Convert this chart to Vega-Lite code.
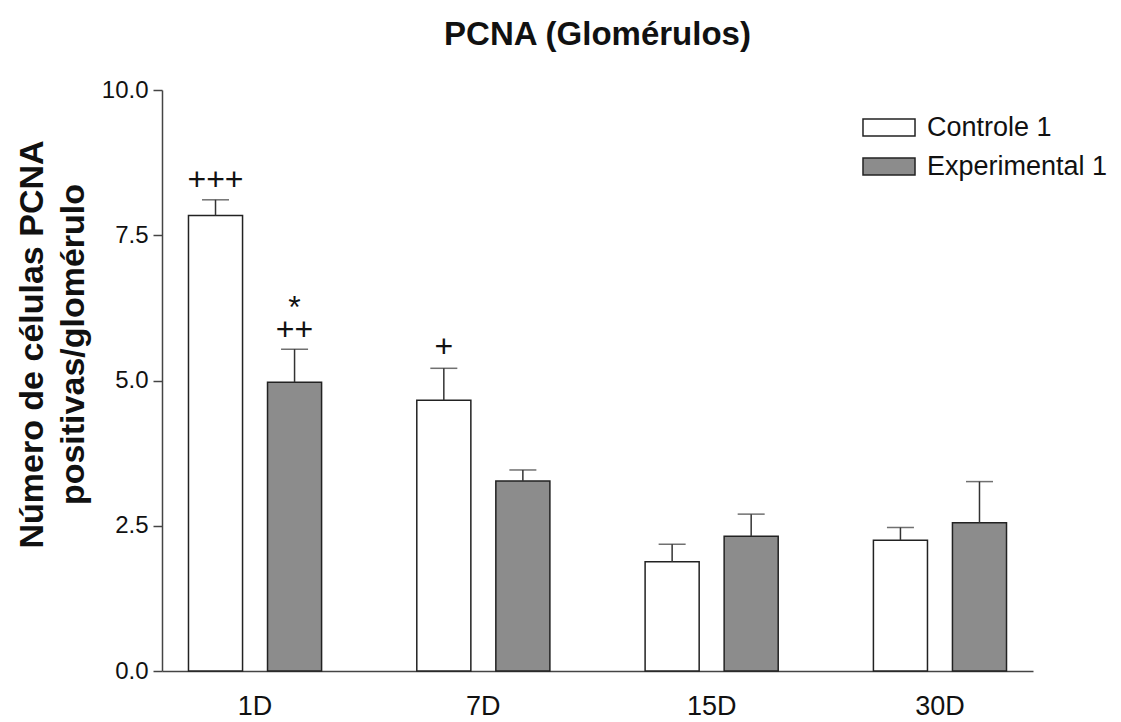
{
  "$schema": "https://vega.github.io/schema/vega-lite/v6.json",
  "width": 871,
  "height": 581,
  "autosize": {"type": "none"},
  "padding": {"left": 162, "top": 90, "right": 88, "bottom": 51},
  "background": "white",
  "config": {"font": "Liberation Sans", "view": {"stroke": null}},
  "title": {
    "text": "PCNA (Glomérulos)",
    "fontSize": 33,
    "fontWeight": "bold",
    "color": "#111111",
    "anchor": "middle",
    "frame": "group",
    "baseline": "alphabetic",
    "offset": 0
  },
  "datasets": {
    "barras": [
      {"dia": "1D", "grupo": "Controle 1", "media": 7.84, "sup": 8.11},
      {"dia": "1D", "grupo": "Experimental 1", "media": 4.97, "sup": 5.54},
      {"dia": "7D", "grupo": "Controle 1", "media": 4.66, "sup": 5.21},
      {"dia": "7D", "grupo": "Experimental 1", "media": 3.27, "sup": 3.46},
      {"dia": "15D", "grupo": "Controle 1", "media": 1.88, "sup": 2.18},
      {"dia": "15D", "grupo": "Experimental 1", "media": 2.32, "sup": 2.7},
      {"dia": "30D", "grupo": "Controle 1", "media": 2.25, "sup": 2.47},
      {"dia": "30D", "grupo": "Experimental 1", "media": 2.55, "sup": 3.26}
    ],
    "marcas": [
      {"dia": "1D", "grupo": "Controle 1", "rotulo": "+++", "pos": 8.45},
      {"dia": "1D", "grupo": "Experimental 1", "rotulo": "++", "pos": 5.87},
      {"dia": "1D", "grupo": "Experimental 1", "rotulo": "*", "pos": 6.24},
      {"dia": "7D", "grupo": "Controle 1", "rotulo": "+", "pos": 5.58}
    ]
  },
  "encoding": {
    "x": {
      "field": "dia",
      "type": "nominal",
      "sort": ["1D", "7D", "15D", "30D"],
      "scale": {"paddingInner": 0.417, "paddingOuter": 0.116},
      "axis": {
        "title": null,
        "labelAngle": 0,
        "labelFontSize": 27,
        "labelColor": "#111111",
        "ticks": false,
        "tickSize": 0,
        "labelPadding": 22,
        "domainColor": "#444444",
        "domainWidth": 1.5
      }
    },
    "xOffset": {
      "field": "grupo",
      "type": "nominal",
      "sort": ["Controle 1", "Experimental 1"],
      "scale": {"paddingInner": 0.316, "paddingOuter": 0}
    }
  },
  "layer": [
    {
      "data": {"name": "barras"},
      "mark": {"type": "bar", "stroke": "#222222", "strokeWidth": 1.5},
      "encoding": {
        "y": {
          "field": "media",
          "type": "quantitative",
          "scale": {"domain": [0, 10], "nice": false},
          "axis": {
            "values": [0, 2.5, 5, 7.5, 10],
            "format": ".1f",
            "grid": false,
            "labelFontSize": 24,
            "labelColor": "#111111",
            "labelPadding": 5,
            "tickSize": 9,
            "tickColor": "#444444",
            "tickWidth": 1.5,
            "domainColor": "#444444",
            "domainWidth": 1.5,
            "title": ["Número de células PCNA", "positivas/glomérulo"],
            "titleFontSize": 34,
            "titleFontWeight": "bold",
            "titleColor": "#111111",
            "titleAngle": -90,
            "titleAlign": "center",
            "titleBaseline": "alphabetic",
            "titleLineHeight": 41,
            "titleX": -120,
            "titleY": 254
          }
        },
        "color": {
          "field": "grupo",
          "type": "nominal",
          "sort": ["Controle 1", "Experimental 1"],
          "scale": {"range": ["#ffffff", "#8c8c8c"]},
          "legend": {
            "title": null,
            "orient": "none",
            "legendX": 709,
            "legendY": 19.5,
            "padding": 0,
            "symbolType": "M-1.53,-0.5H1.53V0.5H-1.53Z",
            "symbolSize": 1156,
            "symbolStrokeColor": "#222222",
            "symbolStrokeWidth": 1.5,
            "symbolOpacity": 1,
            "labelFontSize": 27,
            "labelColor": "#111111",
            "labelOffset": 20,
            "labelLimit": 400,
            "rowPadding": 8,
            "direction": "vertical",
            "encode": {
              "symbols": {
                "update": {
                  "stroke": {"value": "#222222"},
                  "strokeWidth": {"value": 1.5}
                }
              }
            }
          }
        }
      }
    },
    {
      "data": {"name": "barras"},
      "mark": {"type": "rule", "color": "#333333", "strokeWidth": 1.5},
      "encoding": {
        "y": {"field": "media", "type": "quantitative"},
        "y2": {"field": "sup"}
      }
    },
    {
      "data": {"name": "barras"},
      "mark": {"type": "tick", "color": "#333333", "size": 27, "thickness": 1.5, "orient": "horizontal"},
      "encoding": {
        "y": {"field": "sup", "type": "quantitative"}
      }
    },
    {
      "data": {"name": "marcas"},
      "mark": {"type": "text", "fontSize": 32, "color": "#111111", "baseline": "middle", "align": "center"},
      "encoding": {
        "y": {"field": "pos", "type": "quantitative"},
        "text": {"field": "rotulo"}
      }
    }
  ]
}
